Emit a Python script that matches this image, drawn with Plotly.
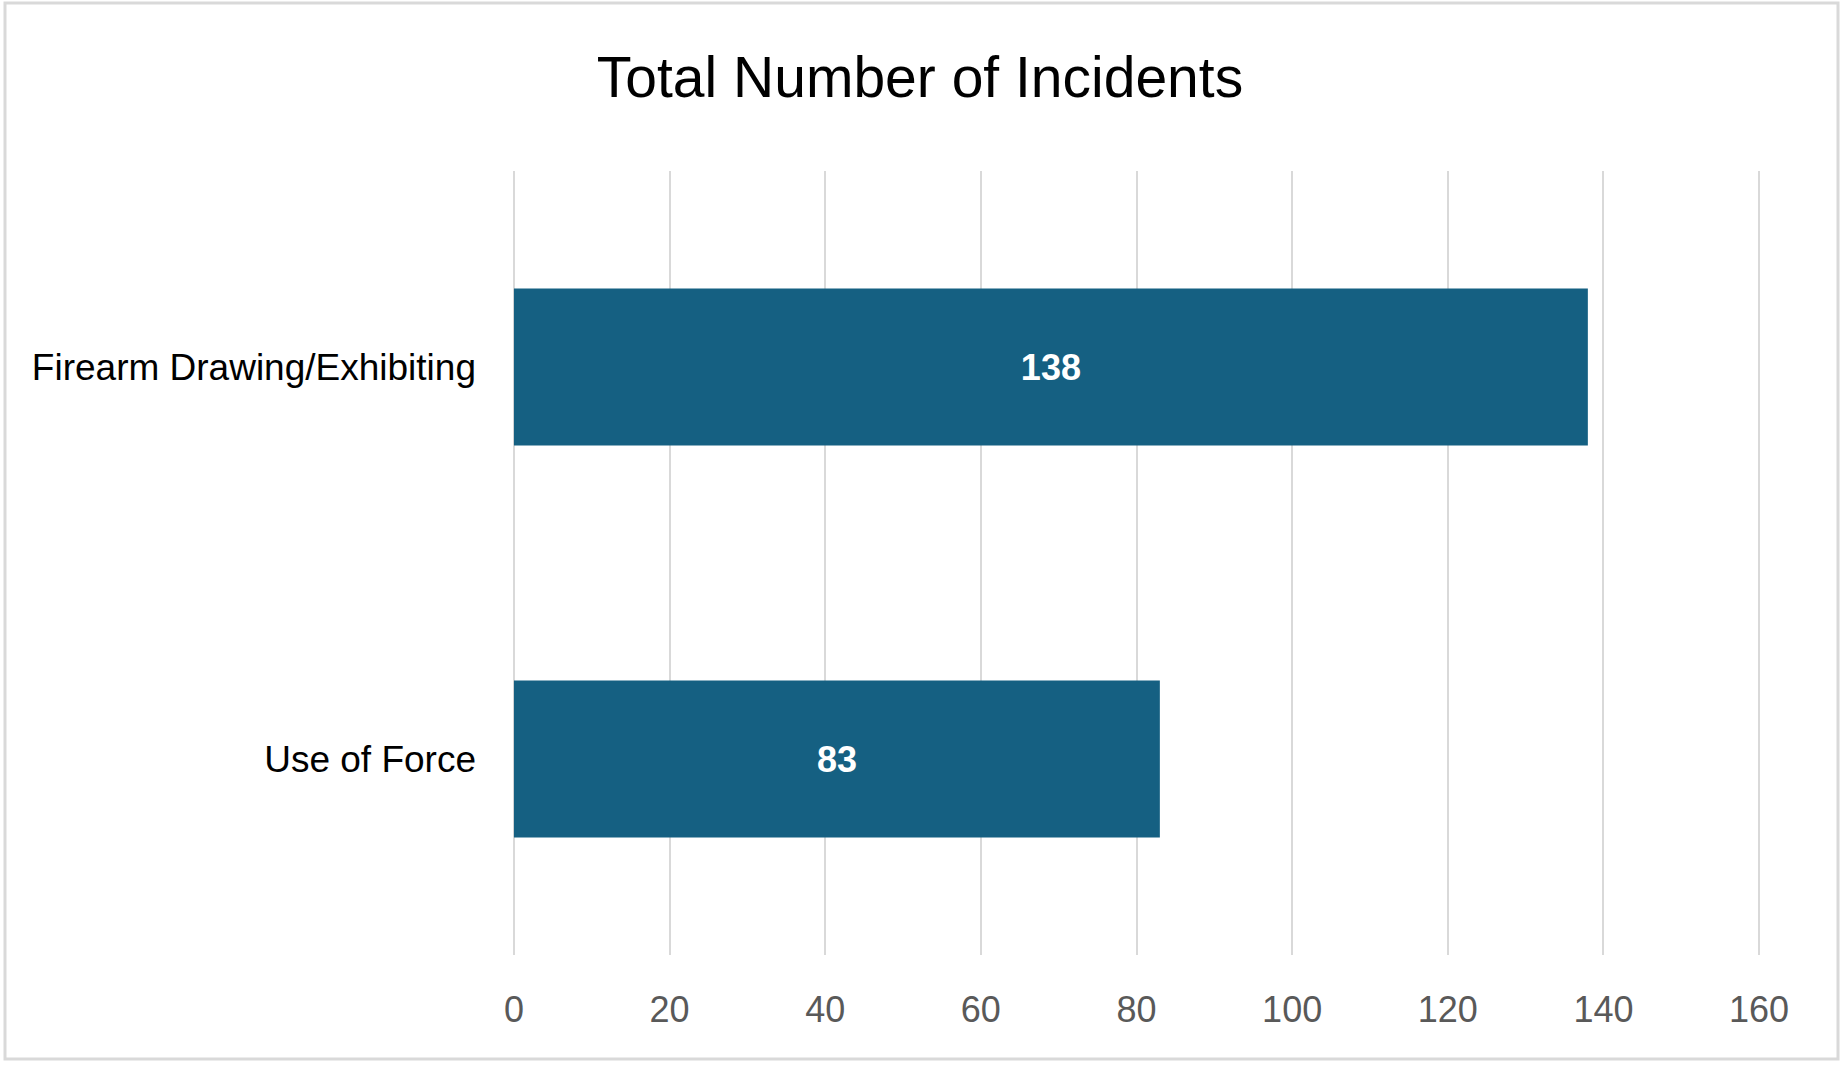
import plotly.graph_objects as go

categories = ["Use of Force", "Firearm Drawing/Exhibiting"]
values = [83, 138]
tick_vals = [0, 20, 40, 60, 80, 100, 120, 140, 160]
title_text = "Total Number of Incidents"

W, H = 1847, 1067
X_MIN, X_MAX, X_PAD = 0, 160, 0.25
SCALE = (1759 - 514) / (X_MAX - X_MIN)
L = round(514 - X_PAD * SCALE)
PW = round((X_MAX - X_MIN + 2 * X_PAD) * SCALE)
R = W - L - PW
T, B = 171, 112
ph = H - T - B

def px_x(x):
    return (x - L) / PW

def px_y(y):
    return (H - B - y) / ph

FONT = "Liberation Sans, Arial, sans-serif"

fig = go.Figure(
    go.Bar(
        x=values,
        y=categories,
        orientation="h",
        width=0.4,
        marker=dict(color="#156082", line=dict(width=0)),
        text=values,
        textposition="inside",
        insidetextanchor="middle",
        textangle=0,
        textfont=dict(family=FONT, size=36, color="white", weight="bold"),
        hoverinfo="skip",
    )
)

fig.update_layout(
    width=W,
    height=H,
    margin=dict(l=L, r=R, t=T, b=B, pad=0),
    paper_bgcolor="white",
    plot_bgcolor="white",
    showlegend=False,
    title=dict(
        text=title_text,
        x=920 / W,
        xanchor="center",
        y=1 - 77 / H,
        yanchor="middle",
        xref="container",
        yref="container",
        font=dict(family=FONT, size=57, color="#000000"),
    ),
    xaxis=dict(
        range=[X_MIN - X_PAD, X_MAX + X_PAD],
        tickvals=tick_vals,
        ticktext=[str(v) for v in tick_vals],
        showgrid=True,
        gridcolor="#d9d9d9",
        gridwidth=2,
        zeroline=False,
        showline=False,
        ticks="",
        ticklabelstandoff=30,
        tickfont=dict(family=FONT, size=36, color="#595959"),
        fixedrange=True,
    ),
    yaxis=dict(
        categoryorder="array",
        categoryarray=categories,
        range=[-0.5, 1.5],
        showgrid=False,
        zeroline=False,
        showline=False,
        ticks="",
        ticklabelstandoff=37 - (514 - L),
        tickfont=dict(family=FONT, size=37, color="#000000"),
        fixedrange=True,
    ),
    shapes=[
        dict(
            type="rect",
            xref="paper",
            yref="paper",
            x0=px_x(5),
            x1=px_x(1838),
            y0=px_y(1059),
            y1=px_y(3),
            line=dict(color="#d9d9d9", width=3),
            fillcolor="rgba(0,0,0,0)",
            layer="below",
        )
    ],
)

fig.write_html(
    "out.html",
    config={"displayModeBar": False},
    post_script="document.body.style.margin='0';document.body.style.padding='0';",
)
